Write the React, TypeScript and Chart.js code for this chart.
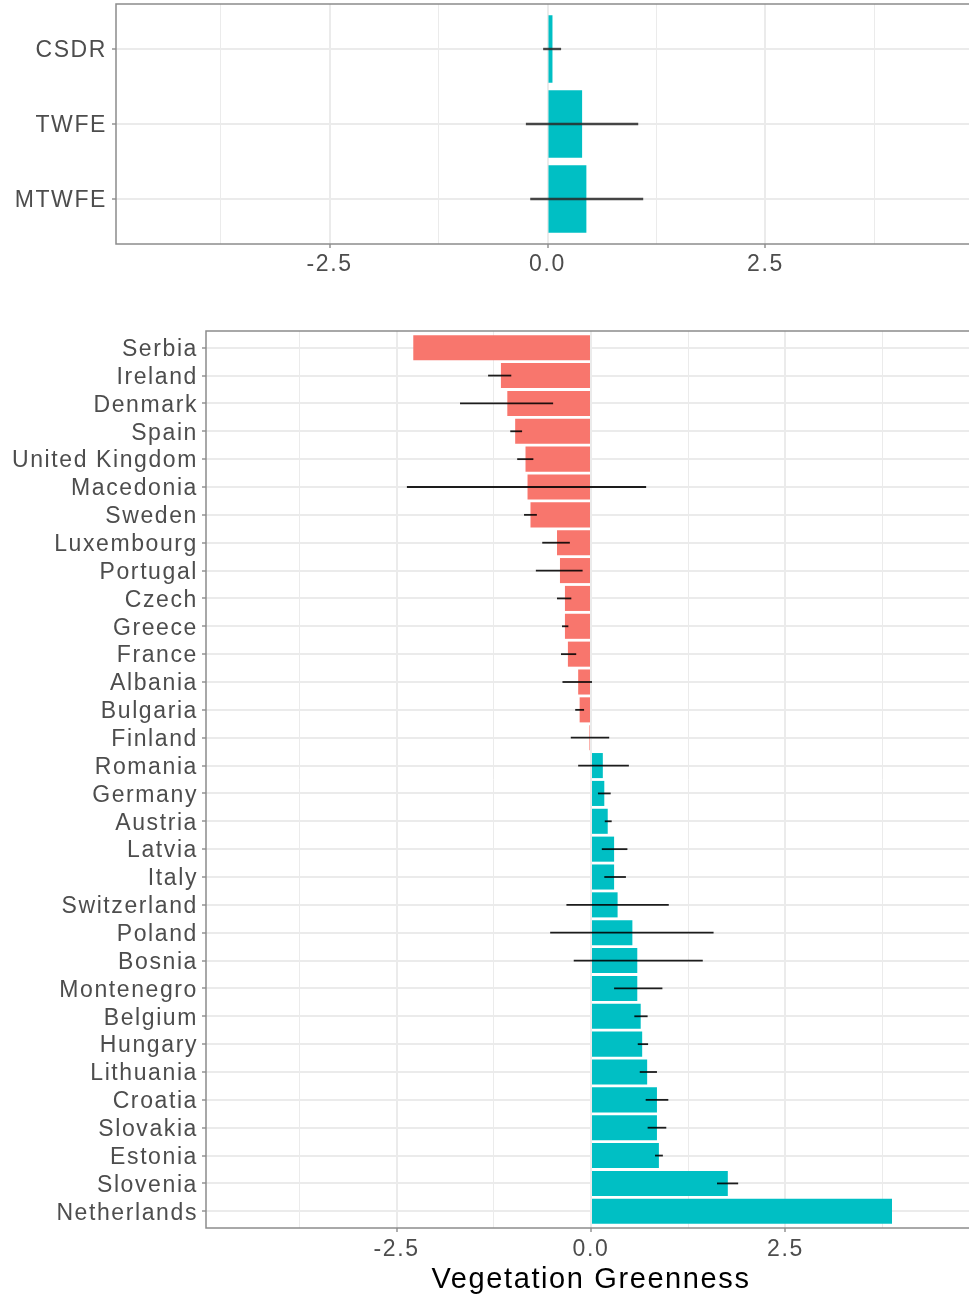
import React, { useEffect, useRef } from "react";
import { Chart, registerables } from "chart.js";

Chart.register(...registerables);

// ---- Top panel: estimators ----
const methods = ["CSDR", "TWFE", "MTWFE"];
const methodEstimates = [0.057, 0.397, 0.446];
const methodLower = [-0.05, -0.248, -0.198];
const methodUpper = [0.156, 1.041, 1.098];

// ---- Bottom panel: countries ----
const countries = [
  "Serbia", "Ireland", "Denmark", "Spain", "United Kingdom", "Macedonia", "Sweden",
  "Luxembourg", "Portugal", "Czech", "Greece", "France", "Albania", "Bulgaria",
  "Finland", "Romania", "Germany", "Austria", "Latvia", "Italy", "Switzerland",
  "Poland", "Bosnia", "Montenegro", "Belgium", "Hungary", "Lithuania", "Croatia",
  "Slovakia", "Estonia", "Slovenia", "Netherlands",
];
const countryEstimates = [
  -2.285, -1.158, -1.076, -0.975, -0.842, -0.816, -0.778, -0.437, -0.399, -0.335,
  -0.335, -0.297, -0.165, -0.146, -0.02, 0.152, 0.171, 0.215, 0.297, 0.297, 0.342,
  0.532, 0.595, 0.595, 0.639, 0.658, 0.722, 0.848, 0.848, 0.873, 1.759, 3.87,
];
const countryLower = [
  null, -1.323, -1.684, -1.038, -0.949, -2.367, -0.861, -0.627, -0.709, -0.437,
  -0.373, -0.386, -0.367, -0.203, -0.26, -0.165, 0.089, 0.177, 0.139, 0.171, -0.316,
  -0.525, -0.222, 0.297, 0.557, 0.601, 0.627, 0.703, 0.728, 0.823, 1.62, null,
];
const countryUpper = [
  null, -1.025, -0.487, -0.886, -0.741, 0.709, -0.696, -0.272, -0.108, -0.253,
  -0.291, -0.19, 0.013, -0.089, 0.234, 0.487, 0.253, 0.266, 0.468, 0.449, 1.0,
  1.576, 1.437, 0.918, 0.728, 0.734, 0.848, 0.994, 0.968, 0.924, 1.892, null,
];

// ---- Axis ----
const xTicks = [-3.75, -2.5, -1.25, 0, 1.25, 2.5, 3.75];
const xMajor = [-2.5, 0, 2.5];
const xMin = -4.95;
const xMax = 4.95;
const xTitle = "Vegetation Greenness";

const NEG = "#F8766D";
const POS = "#00BFC4";
const FONT = '"Liberation Sans", Arial, Helvetica, sans-serif';
const TEXT = "#4D4D4D";
const GRID = "#EBEBEB";
const BORDER = "#8c8c8c";

type PanelProps = {
  labels: string[];
  values: number[];
  lower: (number | null)[];
  upper: (number | null)[];
  width: number;
  height: number;
  top: number;
  yAxisWidth: number;
  padTop: number;
  xAxisHeight: number;
  xTickPad: number;
  yTickPad: number;
  yLabelShift: number;
  errWidth: number;
  errColor: string;
  title?: string;
};

function Panel(p: PanelProps) {
  const ref = useRef<HTMLCanvasElement>(null);
  useEffect(() => {
    if (!ref.current) return;
    const n = p.labels.length;
    const isMajor = (v: number) => xMajor.some((m) => Math.abs(m - v) < 1e-9);

    const errorBars = {
      id: "errorBars",
      afterDatasetsDraw(chart: any) {
        const { ctx, scales } = chart;
        const x = scales.x;
        const y = scales.y;
        ctx.save();
        ctx.strokeStyle = p.errColor;
        ctx.lineWidth = p.errWidth;
        p.labels.forEach((_, i) => {
          const lo = p.lower[i];
          const hi = p.upper[i];
          if (lo == null || hi == null) return;
          const py = y.getPixelForValue(i + 1);
          ctx.beginPath();
          ctx.moveTo(x.getPixelForValue(lo), py);
          ctx.lineTo(x.getPixelForValue(hi), py);
          ctx.stroke();
        });
        ctx.restore();
      },
    };
    const panelBorder = {
      id: "panelBorder",
      afterDraw(chart: any) {
        const { ctx, chartArea } = chart;
        ctx.save();
        ctx.strokeStyle = BORDER;
        ctx.lineWidth = 1.5;
        ctx.strokeRect(chartArea.left, chartArea.top, chartArea.right - chartArea.left, chartArea.bottom - chartArea.top);
        ctx.restore();
      },
    };
    const spacing = {
      id: "spacing",
      beforeDraw(chart: any) {
        (chart.ctx as any).letterSpacing = "1.6px";
      },
    };

    const chart = new Chart(ref.current, {
      type: "bar",
      data: {
        datasets: [
          {
            data: p.values.map((v, i) => ({ x: v, y: i + 1 })) as any,
            backgroundColor: p.values.map((v) => (v < 0 ? NEG : POS)),
            borderWidth: 0,
            barPercentage: 0.9,
            categoryPercentage: 1,
          },
        ],
      },
      options: {
        indexAxis: "y",
        animation: false,
        responsive: false,
        devicePixelRatio: 1,
        layout: { autoPadding: false, padding: { top: p.padTop, left: 0, right: 0, bottom: 0 } },
        plugins: { legend: { display: false }, tooltip: { enabled: false } },
        scales: {
          x: {
            type: "linear",
            offset: false,
            min: xMin,
            max: xMax,
            afterBuildTicks: (s: any) => {
              s.ticks = xTicks.map((v) => ({ value: v }));
            },
            afterFit: (s: any) => {
              s.height = p.xAxisHeight;
              s.paddingLeft = 0;
              s.paddingRight = 0;
            },
            ticks: {
              autoSkip: false,
              maxRotation: 0,
              padding: p.xTickPad,
              color: TEXT,
              font: { family: FONT, size: 23 },
              callback: (v: any) => (isMajor(Number(v)) ? Number(v).toFixed(1) : ""),
            },
            grid: {
              offset: false,
              color: GRID,
              lineWidth: (c: any) => (c.tick && isMajor(c.tick.value) ? 2 : 1),
              tickLength: 4,
              tickWidth: 1.4,
              tickColor: (c: any) => (c.tick && isMajor(c.tick.value) ? BORDER : "rgba(0,0,0,0)"),
            },
            border: { display: false },
            title: p.title
              ? {
                  display: true,
                  text: p.title,
                  color: "#000",
                  font: { family: FONT, size: 29 },
                  padding: { top: 0, bottom: 0 },
                }
              : { display: false },
          },
          y: {
            type: "linear",
            offset: false,
            reverse: true,
            min: 0.4,
            max: n + 0.6,
            afterBuildTicks: (s: any) => {
              s.ticks = p.labels.map((_, i) => ({ value: i + 1 }));
            },
            afterFit: (s: any) => {
              s.width = p.yAxisWidth;
              s.paddingTop = 0;
              s.paddingBottom = 0;
            },
            ticks: {
              autoSkip: false,
              padding: p.yTickPad,
              labelOffset: p.yLabelShift,
              color: TEXT,
              font: { family: FONT, size: 23 },
              callback: (v: any) => p.labels[Math.round(Number(v)) - 1] ?? "",
            },
            grid: {
              offset: false,
              color: GRID,
              lineWidth: 2,
              tickLength: 4,
              tickWidth: 1.4,
              tickColor: BORDER,
            },
            border: { display: false },
          },
        },
      },
      plugins: [spacing, errorBars, panelBorder],
    } as any);
    return () => chart.destroy();
  }, []);
  return (
    <canvas
      ref={ref}
      width={p.width}
      height={p.height}
      style={{ position: "absolute", left: 0, top: p.top, width: p.width, height: p.height, display: "block" }}
    />
  );
}

export default function App() {
  return (
    <div
      style={{
        position: "absolute",
        left: 0,
        top: 0,
        width: 969,
        height: 1297,
        overflow: "hidden",
        background: "#ffffff",
      }}
    >
      <Panel
        labels={methods}
        values={methodEstimates}
        lower={methodLower}
        upper={methodUpper}
        width={979}
        height={300}
        top={0}
        yAxisWidth={116}
        padTop={4}
        xAxisHeight={56}
        xTickPad={3}
        yTickPad={5}
        yLabelShift={1.5}
        errWidth={2.4}
        errColor="rgba(40,40,40,0.85)"
      />
      <Panel
        labels={countries}
        values={countryEstimates}
        lower={countryLower}
        upper={countryUpper}
        width={976}
        height={997}
        top={300}
        yAxisWidth={206}
        padTop={31}
        xAxisHeight={69}
        xTickPad={4}
        yTickPad={4}
        yLabelShift={2}
        errWidth={1.8}
        errColor="rgba(0,0,0,0.88)"
        title={xTitle}
      />
    </div>
  );
}
